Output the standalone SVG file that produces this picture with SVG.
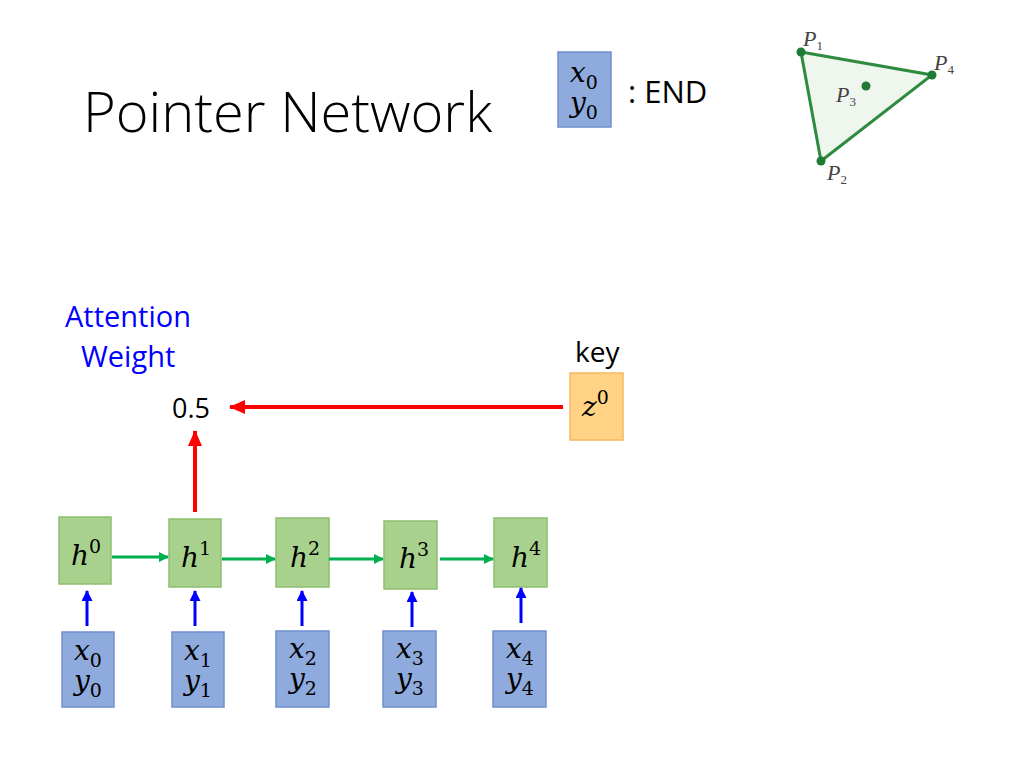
<svg xmlns="http://www.w3.org/2000/svg" width="1024" height="768" viewBox="0 0 1024 768">
<style>
.h{fill:#A9D18E;stroke:#8DBE6E;stroke-width:1.5}
.x{fill:#8FAADC;stroke:#6F8FCF;stroke-width:1.5}
.m{font-family:"DejaVu Serif","Liberation Serif",serif;font-style:italic;font-size:28px;fill:#000}
.s{font-style:normal;font-size:19px}
.g{stroke:#00B050;stroke-width:3;fill:none}
.b{stroke:#0000FF;stroke-width:3;fill:none}
.r{stroke:#FF0000;stroke-width:4;fill:none}
.p{font-family:"Liberation Serif","DejaVu Serif",serif;font-style:italic;font-size:22px;fill:#444}
.ps{font-style:normal;font-size:13px}
.t{font-family:"Open Sans","Liberation Sans",sans-serif}
</style>
<defs>
<marker id="ag" markerWidth="10" markerHeight="10" refX="9" refY="5" orient="auto" markerUnits="userSpaceOnUse"><path d="M0,0 L10,5 L0,10 z" fill="#00B050"/></marker>
<marker id="ab" markerWidth="11" markerHeight="11" refX="10" refY="5.5" orient="auto" markerUnits="userSpaceOnUse"><path d="M0,0 L11,5.5 L0,11 z" fill="#0000FF"/></marker>
<marker id="ar" markerWidth="16" markerHeight="14" refX="15" refY="7" orient="auto" markerUnits="userSpaceOnUse"><path d="M0,0 L16,7 L0,14 z" fill="#FF0000"/></marker>
</defs>
<rect width="1024" height="768" fill="#fff"/>
<text x="83" y="132" class="t" font-size="56" font-weight="300" fill="#000">Pointer Network</text>
<g id="end">
<rect x="558" y="52" width="53" height="75" class="x"/>
<text x="570" y="82" class="m">x<tspan class="s" dy="7">0</tspan><tspan x="570" dy="23">y</tspan><tspan class="s" dy="7">0</tspan></text>
<text x="628" y="103" class="t" font-size="31" fill="#000">: END</text>
</g>
<g id="triangle">
<polygon points="801,52 932,75 821,161" fill="#EEF6EE" stroke="#2E8B3E" stroke-width="3"/>
<circle cx="801" cy="52" r="4.5" fill="#1E7A34"/>
<circle cx="932" cy="75" r="4.5" fill="#1E7A34"/>
<circle cx="821" cy="161" r="4.5" fill="#1E7A34"/>
<circle cx="866" cy="86" r="4.5" fill="#1E7A34"/>
<text x="803" y="46" class="p">P<tspan class="ps" dy="4">1</tspan></text>
<text x="934" y="70" class="p">P<tspan class="ps" dy="4">4</tspan></text>
<text x="836" y="102" class="p">P<tspan class="ps" dy="4">3</tspan></text>
<text x="827" y="180" class="p">P<tspan class="ps" dy="4">2</tspan></text>
</g>
<g id="attention">
<text x="65" y="327" class="t" font-size="29" fill="#0000FF">Attention</text>
<text x="81" y="367" class="t" font-size="29" fill="#0000FF">Weight</text>
</g>
<g id="weight"><text x="172" y="418" class="t" font-size="27" fill="#000">0.5</text></g>
<g id="key">
<text x="575" y="362" class="t" font-size="28" fill="#000">key</text>
<rect x="570" y="373" width="53" height="67" fill="#FFD285" stroke="#F4B860" stroke-width="1.5"/>
<text x="582" y="416" class="m">z<tspan class="s" dy="-12">0</tspan></text>
</g>
<g id="h0"><rect x="59" y="517" width="52" height="67" class="h"/><text x="71" y="565" class="m">h<tspan class="s" dy="-12">0</tspan></text></g>
<g id="h1"><rect x="169" y="519" width="52" height="68" class="h"/><text x="181" y="567" class="m">h<tspan class="s" dy="-12">1</tspan></text></g>
<g id="h2"><rect x="276" y="518" width="53" height="69" class="h"/><text x="290" y="567" class="m">h<tspan class="s" dy="-12">2</tspan></text></g>
<g id="h3"><rect x="384" y="521" width="53" height="68" class="h"/><text x="399" y="568" class="m">h<tspan class="s" dy="-12">3</tspan></text></g>
<g id="h4"><rect x="494" y="518" width="53" height="69" class="h"/><text x="511" y="567" class="m">h<tspan class="s" dy="-12">4</tspan></text></g>
<g id="x0"><rect x="62" y="632" width="52" height="75" class="x"/><text x="74" y="660" class="m">x<tspan class="s" dy="7">0</tspan><tspan x="74" dy="23">y</tspan><tspan class="s" dy="7">0</tspan></text></g>
<g id="x1"><rect x="172" y="632" width="52" height="75" class="x"/><text x="184" y="660" class="m">x<tspan class="s" dy="7">1</tspan><tspan x="184" dy="23">y</tspan><tspan class="s" dy="7">1</tspan></text></g>
<g id="x2"><rect x="276" y="631" width="53" height="76" class="x"/><text x="289" y="658" class="m">x<tspan class="s" dy="7">2</tspan><tspan x="289" dy="23">y</tspan><tspan class="s" dy="7">2</tspan></text></g>
<g id="x3"><rect x="383" y="631" width="53" height="76" class="x"/><text x="396" y="658" class="m">x<tspan class="s" dy="7">3</tspan><tspan x="396" dy="23">y</tspan><tspan class="s" dy="7">3</tspan></text></g>
<g id="x4"><rect x="493" y="631" width="53" height="76" class="x"/><text x="506" y="658" class="m">x<tspan class="s" dy="7">4</tspan><tspan x="506" dy="23">y</tspan><tspan class="s" dy="7">4</tspan></text></g>
<g id="connectors">
<line x1="112" y1="557" x2="168" y2="557" class="g" marker-end="url(#ag)"/>
<line x1="222" y1="559" x2="275" y2="559" class="g" marker-end="url(#ag)"/>
<line x1="329" y1="559" x2="383" y2="559" class="g" marker-end="url(#ag)"/>
<line x1="440" y1="559" x2="493" y2="559" class="g" marker-end="url(#ag)"/>
<line x1="87" y1="626" x2="87" y2="591" class="b" marker-end="url(#ab)"/>
<line x1="195" y1="626" x2="195" y2="591" class="b" marker-end="url(#ab)"/>
<line x1="302" y1="626" x2="302" y2="591" class="b" marker-end="url(#ab)"/>
<line x1="412" y1="627" x2="412" y2="592" class="b" marker-end="url(#ab)"/>
<line x1="521" y1="623" x2="521" y2="588" class="b" marker-end="url(#ab)"/>
<line x1="195" y1="512" x2="195" y2="431" class="r" marker-end="url(#ar)"/>
<line x1="563" y1="407" x2="230" y2="407" class="r" marker-end="url(#ar)"/>
</g>
</svg>
